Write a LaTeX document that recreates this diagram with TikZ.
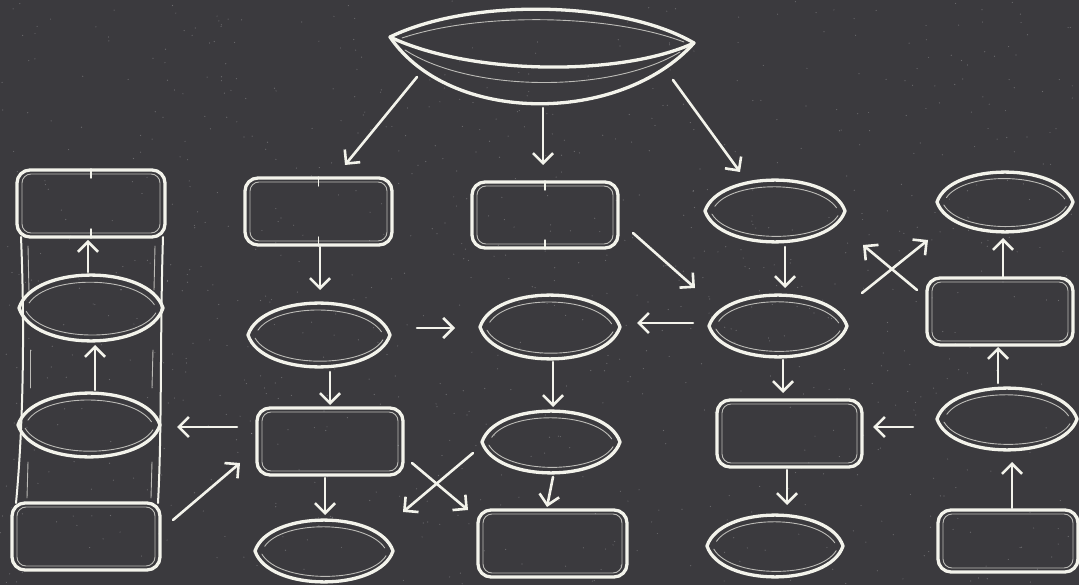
\documentclass[tikz,border=0pt]{standalone}
\usetikzlibrary{arrows.meta,calc}
\definecolor{board}{RGB}{59,58,62}
\definecolor{chalk}{RGB}{243,243,235}
\tikzset{
  chalkline/.style={draw=chalk, line width=3.3pt, line cap=round, line join=round},
  chalkthin/.style={draw=chalk, line width=0.9pt, opacity=0.7, line cap=round},
  hold/.style={draw=none, inner sep=0pt, outer sep=0pt},
  boxshape/.style={chalkline, rounded corners=13pt, inner sep=0pt, outer sep=0pt},
  arr/.style={draw=chalk, line width=2.6pt, line cap=round,
    -{Straight Barb[length=10pt,width=20pt,line width=2.6pt]}},
}
\newcommand{\lensnode}[5]{%
  \node[hold, minimum width={2*#4*1pt}, minimum height={2*#5*1pt}] (#1) at (#2,#3) {};
  \draw[chalkline] ({#2-#4},#3) .. controls ({#2-0.8*#4},{#3-1.33*#5}) and ({#2+0.8*#4},{#3-1.33*#5}) .. ({#2+#4},#3)
     .. controls ({#2+0.8*#4},{#3+1.33*#5}) and ({#2-0.8*#4},{#3+1.33*#5}) .. cycle;
  \draw[chalkthin] ({#2-0.9*#4},{#3+0.1*#5}) .. controls ({#2-0.65*#4},{#3+1.05*#5}) and ({#2+0.65*#4},{#3+1.05*#5}) .. ({#2+0.9*#4},{#3+0.15*#5});
  \draw[chalkthin] ({#2-0.86*#4},{#3-0.15*#5}) .. controls ({#2-0.6*#4},{#3-1.0*#5}) and ({#2+0.6*#4},{#3-1.0*#5}) .. ({#2+0.88*#4},{#3-0.1*#5});
}
\newcommand{\boxnode}[5]{%
  \node[boxshape, minimum width={#4*1pt}, minimum height={#5*1pt}] (#1) at (#2,#3) {};
  \draw[chalkthin, rounded corners=9pt] ($(#1.south west)+(5,-4)$) rectangle ($(#1.north east)+(-5,4)$);
}
\newcommand{\boxticks}[1]{%
  \draw[chalkline, line width=1.4pt] ($(#1.north)+(0,-1)$) -- ++(0,9);
  \draw[chalkline, line width=1.4pt] ($(#1.south)+(0,1)$) -- ++(0,-9);
}
\begin{document}
\begin{tikzpicture}[x=1pt,y=-1pt]
\useasboundingbox (0,0) rectangle (1079,585);
\fill[board] (0,0) rectangle (1079,585);
\pgfmathsetseed{11}
\foreach \i in {1,...,900}{
  \fill[white, opacity=0.25] ({rnd*1079},{rnd*585}) circle (0.6);
}

% top bowl
\node[hold, minimum width=306pt, minimum height=96pt] (T) at (542,55) {};
\draw[chalkline] (390,37) .. controls (470,-2) and (620,0) .. (694,43);
\draw[chalkline] (390,37) .. controls (470,75) and (620,77) .. (694,43);
\draw[chalkline] (390,37) .. controls (450,125) and (620,125) .. (694,43);
\draw[chalkthin] (402,38) .. controls (480,12) and (610,14) .. (684,42);
\draw[chalkthin] (405,50) .. controls (470,92) and (610,94) .. (680,52);

% left column
\boxnode{L1}{91}{203.5}{148}{67}
\lensnode{L2}{91}{308}{72}{33}
\lensnode{L3}{89}{425}{71}{32}
\boxnode{L4}{86}{536.5}{148}{67}
\boxticks{L1}
\draw[chalkline, line width=2pt] (21,237) .. controls (25,330) and (23,430) .. (16,503);
\draw[chalkline, line width=2pt] (163,237) .. controls (160,330) and (162,430) .. (158,503);
\draw[chalkthin] (28,246) -- (29,292);
\draw[chalkthin] (30,350) -- (30,388);
\draw[chalkthin] (28,462) -- (27,498);
\draw[chalkthin] (155,246) -- (154,290);
\draw[chalkthin] (153,350) -- (152,388);
\draw[chalkthin] (152,462) -- (151,498);

% column 2
\boxnode{A1}{318.5}{211.5}{147}{67}
\boxticks{A1}
\lensnode{A2}{319}{335}{71}{32}
\boxnode{A3}{330}{441.5}{146}{67}
\lensnode{A4}{324}{551}{69}{31}

% column 3
\boxnode{B1}{545}{215}{146}{66}
\boxticks{B1}
\lensnode{B2}{550}{327}{70}{32}
\lensnode{B3}{551}{442}{69}{31}
\boxnode{B4}{552.5}{543.5}{149}{67}

% column 4
\lensnode{C1}{775}{211}{70}{31}
\lensnode{C2}{778}{326}{69}{31}
\boxnode{C3}{789.5}{433.5}{145}{67}
\lensnode{C4}{775}{546}{68}{31}

% column 5
\lensnode{D1}{1005}{202}{68}{30}
\boxnode{D2}{1000}{311.5}{146}{67}
\lensnode{D3}{1007}{419}{70}{31}
\boxnode{D4}{1008}{541}{140}{62}

% arrows
\draw[arr] ($(T.west)+(28,22)$) -- ($(A1.north)+(26.5,-13)$);
\draw[arr] ($(T.south)+(1,5)$) -- ($(B1.north)+(-2,-17)$);
\draw[arr] ($(T.east)+(-22,25)$) -- ($(C1.north)+(-35,-8)$);
\draw[arr] ($(B1.east)+(15,18)$) -- ($(C2.west)+(-14,-38)$);
\draw[arr] ($(A1.south)+(1.5,2)$) -- ($(A2.north)+(1,-13)$);
\draw[arr] ($(A2.south)+(11,5)$) -- ($(A3.north)+(0,-3)$);
\draw[arr] ($(A3.south)+(-5,3)$) -- ($(A4.north)+(1,-5)$);
\draw[arr] ($(A2.east)+(27,-7)$) -- ($(B2.west)+(-25,1)$);
\draw[arr] ($(C2.west)+(-16,-3)$) -- ($(B2.east)+(17,-4)$);
\draw[arr] ($(B2.south)+(3,3)$) -- ($(B3.north)+(2,-4)$);
\draw[arr] ($(B3.south)+(2,4)$) -- ($(B4.north)+(-5.5,-3)$);
\draw[arr] ($(A3.west)+(-20,-14.5)$) -- ($(L3.east)+(17,2)$);
\draw[arr] ($(L4.east)+(13,-16.5)$) -- ($(A3.west)+(-17,21.5)$);
\draw[arr] ($(B3.west)+(-9,11)$) -- ($(A4.north east)+(10,-8)$);
\draw[arr] ($(A3.east)+(9,21.5)$) -- ($(B4.north west)+(-10,0)$);
\draw[arr] ($(C1.south)+(10,5)$) -- ($(C2.north)+(7,-7)$);
\draw[arr] ($(C2.south)+(5,3)$) -- ($(C3.north)+(-6.5,-7)$);
\draw[arr] ($(C3.south)+(-2.5,3)$) -- ($(C4.north)+(12,-10)$);
\draw[arr] ($(D3.west)+(-24,8)$) -- ($(C3.east)+(11,-6.5)$);
\draw[arr] ($(D4.north)+(4,-2)$) -- ($(D3.south)+(5,12)$);
\draw[arr] ($(D3.north)+(-9,-5)$) -- ($(D2.south)+(-2,2)$);
\draw[arr] ($(D2.north)+(3,0)$) -- ($(D1.south)+(-2,6)$);
\draw[arr] ($(C2.north east)+(15,-2)$) -- ($(D1.south west)+(-9,8)$);
\draw[arr] ($(D2.west)+(-10,-21.5)$) -- ($(C1.east)+(18,34)$);
\draw[arr] ($(L2.north)+(-3,-3)$) -- ($(L1.south)+(-3,3)$);
\draw[arr] ($(L3.north)+(6,-3)$) -- ($(L2.south)+(4,4)$);
\end{tikzpicture}
\end{document}
